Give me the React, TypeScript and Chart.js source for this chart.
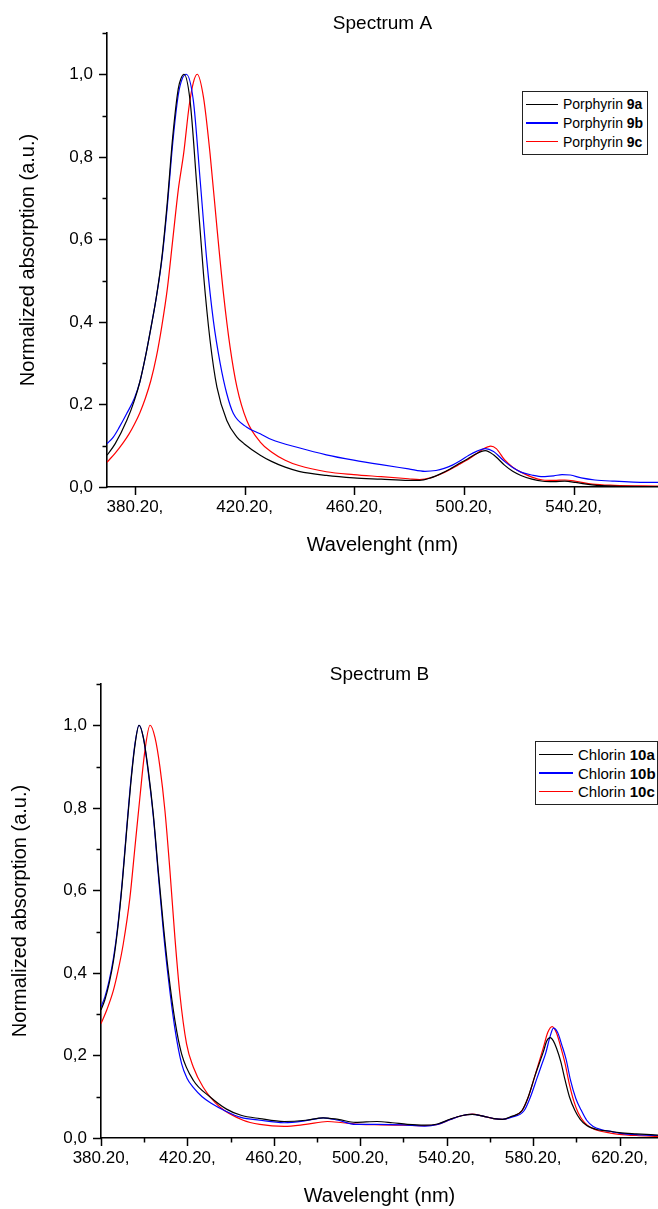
import React, { useEffect, useRef } from 'react';
import { Chart, registerables } from 'chart.js';

Chart.register(...registerables);

const FONT = '"Liberation Sans", Arial, Helvetica, sans-serif';

// ---------- Spectrum A data ----------
const wlA_9a = [370, 373, 377.2, 380, 382, 384, 386, 388, 390, 392, 394, 396, 397, 398.1, 400.3, 402.8, 405.2, 407.6, 410.1, 413.7, 417.4, 420, 425.9, 430, 435, 440, 450, 460, 470, 480, 484, 488, 492, 495, 498, 501, 504, 508, 511, 515, 518, 521, 525, 529, 533, 537, 541, 547, 555, 571];
const absA_9a = [0.077, 0.105, 0.161, 0.21, 0.255, 0.315, 0.385, 0.46, 0.555, 0.69, 0.85, 0.965, 0.99, 1.0, 0.936, 0.726, 0.516, 0.355, 0.242, 0.161, 0.121, 0.105, 0.077, 0.062, 0.048, 0.038, 0.028, 0.022, 0.019, 0.016, 0.016, 0.022, 0.033, 0.043, 0.055, 0.066, 0.078, 0.088, 0.078, 0.053, 0.038, 0.028, 0.019, 0.014, 0.013, 0.014, 0.011, 0.005, 0.002, 0.001];

const wlA_9b = [370, 372.3, 374.5, 377.2, 380, 382, 384, 386, 388, 390, 392, 394, 396, 397.5, 398.9, 401.5, 404, 406.4, 408.8, 411.3, 413.7, 416.1, 421, 425.9, 430, 440, 450, 460, 470, 480, 486, 490, 493, 496, 499, 502, 505, 508, 511, 515, 518, 521, 525, 529, 533, 536, 539, 543, 548, 555, 562, 571];
const absA_9b = [0.105, 0.121, 0.145, 0.178, 0.215, 0.255, 0.315, 0.385, 0.46, 0.55, 0.68, 0.835, 0.95, 0.99, 1.0, 0.936, 0.742, 0.549, 0.403, 0.299, 0.226, 0.178, 0.145, 0.129, 0.115, 0.095, 0.078, 0.065, 0.054, 0.044, 0.038, 0.040, 0.045, 0.053, 0.064, 0.077, 0.087, 0.093, 0.086, 0.062, 0.047, 0.036, 0.029, 0.025, 0.027, 0.030, 0.029, 0.022, 0.017, 0.014, 0.012, 0.011];

const wlA_9c = [370, 373, 376, 378, 380, 382, 384, 386, 388, 390, 392, 394, 396, 398, 400, 401.5, 402.9, 405.2, 407.6, 410.1, 412.5, 414.9, 417.4, 421, 425.9, 430, 435, 440, 450, 460, 470, 480, 484, 488, 492, 495, 498, 501, 504, 507, 510, 512, 515, 518, 521, 525, 529, 533, 537, 541, 547, 555, 571];
const absA_9c = [0.06, 0.082, 0.108, 0.128, 0.152, 0.18, 0.215, 0.258, 0.315, 0.39, 0.48, 0.6, 0.72, 0.81, 0.925, 0.98, 1.0, 0.944, 0.807, 0.629, 0.468, 0.339, 0.242, 0.161, 0.109, 0.085, 0.065, 0.052, 0.037, 0.030, 0.025, 0.020, 0.018, 0.022, 0.032, 0.042, 0.053, 0.064, 0.077, 0.091, 0.099, 0.093, 0.066, 0.048, 0.036, 0.024, 0.017, 0.016, 0.017, 0.014, 0.007, 0.004, 0.002];

// ---------- Spectrum B data ----------
const wlB_10a = [380.2, 382, 384, 386, 388, 390, 392, 394, 396, 397.8, 399.8, 402.1, 404.4, 406.7, 409, 411.3, 414.4, 417.5, 422.9, 430.6, 438.3, 445, 453.7, 465, 475, 483, 490, 498, 508, 515, 522, 530, 536, 542, 547, 552, 557, 562, 566, 570, 575, 578, 581, 583, 585, 586.5, 588.1, 589.5, 591, 593, 595, 597, 599.5, 602, 605, 610, 615, 620, 628, 638];
const absB_10a = [0.31, 0.335, 0.375, 0.43, 0.51, 0.615, 0.74, 0.86, 0.955, 1.0, 0.97, 0.89, 0.785, 0.648, 0.519, 0.406, 0.285, 0.204, 0.14, 0.10, 0.07, 0.055, 0.047, 0.04, 0.043, 0.049, 0.045, 0.038, 0.040, 0.037, 0.033, 0.031, 0.034, 0.046, 0.054, 0.057, 0.053, 0.047, 0.045, 0.052, 0.066, 0.10, 0.15, 0.18, 0.21, 0.235, 0.243, 0.236, 0.218, 0.185, 0.14, 0.10, 0.067, 0.045, 0.03, 0.02, 0.017, 0.013, 0.01, 0.007];

const wlB_10b = [380.2, 382, 384, 386, 388, 390, 392, 394, 396, 397.8, 399.8, 402.1, 404.4, 406.7, 409, 411.3, 414.4, 417.5, 420, 423, 427, 431, 438, 445, 453.7, 465, 475, 483, 490, 498, 508, 520, 530, 536, 542, 547, 552, 557, 562, 566, 570, 576, 579, 582, 584, 586, 588, 589.6, 591.5, 593.5, 595.5, 597.5, 600, 602.5, 605, 608, 612, 617, 620, 628, 638];
const absB_10b = [0.318, 0.342, 0.382, 0.437, 0.515, 0.62, 0.745, 0.865, 0.958, 1.0, 0.97, 0.885, 0.78, 0.64, 0.505, 0.39, 0.265, 0.18, 0.145, 0.122, 0.10, 0.085, 0.065, 0.05, 0.043, 0.037, 0.042, 0.049, 0.043, 0.033, 0.033, 0.032, 0.029, 0.033, 0.045, 0.054, 0.057, 0.053, 0.047, 0.045, 0.05, 0.066, 0.10, 0.145, 0.175, 0.205, 0.245, 0.266, 0.256, 0.225, 0.19, 0.14, 0.095, 0.067, 0.043, 0.028, 0.02, 0.015, 0.012, 0.008, 0.006];

const wlB_10c = [380.2, 383, 385.9, 388, 390.5, 393.6, 395.9, 398.2, 400.5, 402.9, 405.2, 407.5, 409.8, 412.1, 414.4, 416.7, 419.8, 422.9, 427.5, 435.2, 446, 453.7, 465, 475, 485, 492, 500, 510, 520, 530, 536, 542, 547, 552, 557, 562, 566, 570, 575, 578, 581, 583, 585, 587, 589, 591, 593, 595, 597, 599, 601, 604, 607, 611, 616, 620, 628, 638];
const absB_10c = [0.277, 0.312, 0.357, 0.403, 0.47, 0.583, 0.704, 0.825, 0.938, 1.0, 0.97, 0.898, 0.793, 0.648, 0.486, 0.349, 0.228, 0.172, 0.123, 0.075, 0.043, 0.033, 0.028, 0.033, 0.040, 0.037, 0.033, 0.032, 0.031, 0.030, 0.033, 0.045, 0.054, 0.058, 0.053, 0.047, 0.045, 0.051, 0.066, 0.10, 0.15, 0.185, 0.22, 0.256, 0.270, 0.255, 0.22, 0.18, 0.13, 0.09, 0.062, 0.037, 0.025, 0.017, 0.012, 0.009, 0.006, 0.004];

// ---------- Axes ----------
const yTickValues = [0, 0.2, 0.4, 0.6, 0.8, 1.0];
const yTickLabels = ['0,0', '0,2', '0,4', '0,6', '0,8', '1,0'];
const yMinorTicks = [0.1, 0.3, 0.5, 0.7, 0.9, 1.1];

const xTickValuesA = [380.2, 420.2, 460.2, 500.2, 540.2];
const xTickLabelsA = ['380.20,', '420.20,', '460.20,', '500.20,', '540.20,'];
const xMinorTicksA: number[] = [];

const xTickValuesB = [380.2, 420.2, 460.2, 500.2, 540.2, 580.2, 620.2];
const xTickLabelsB = ['380.20,', '420.20,', '460.20,', '500.20,', '540.20,', '580.20,', '620.20,'];
const xMinorTicksB = [400.2, 440.2, 480.2, 520.2, 560.2, 600.2];

const tickMarksPlugin = {
  id: 'tickMarks',
  afterDraw(chart: any, _args: any, opts: any) {
    const { ctx } = chart;
    const xs = chart.scales.x;
    const ys = chart.scales.y;
    ctx.save();
    ctx.strokeStyle = '#000';
    ctx.lineWidth = 1.5;
    const dx = (vals: number[], len: number) => {
      vals.forEach((v) => {
        const p = Math.round(xs.getPixelForValue(v)) + 0.5;
        ctx.beginPath();
        ctx.moveTo(p, xs.top);
        ctx.lineTo(p, xs.top + len);
        ctx.stroke();
      });
    };
    const dy = (vals: number[], len: number) => {
      vals.forEach((v) => {
        const p = Math.round(ys.getPixelForValue(v)) + 0.5;
        ctx.beginPath();
        ctx.moveTo(ys.right, p);
        ctx.lineTo(ys.right - len, p);
        ctx.stroke();
      });
    };
    dx(opts.xMajor || [], 8);
    dx(opts.xMinor || [], 4.5);
    dy(opts.yMajor || [], 8);
    dy(opts.yMinor || [], 4.5);
    ctx.restore();
  },
};

type Series = { label: string; wl: number[]; abs: number[]; color: string };

function SpectrumChart(props: {
  top: number;
  title: string;
  series: Series[];
  xMin: number;
  xMax: number;
  xTicks: number[];
  xLabels: string[];
  xMinor: number[];
  yAxisWidth: number;
  yTitlePad: number;
}) {
  const ref = useRef<HTMLCanvasElement>(null);
  useEffect(() => {
    if (!ref.current) return;
    const chart = new Chart(ref.current, {
      type: 'line',
      data: {
        datasets: props.series.map((s) => ({
          label: s.label,
          data: s.wl.map((x, i) => ({ x, y: s.abs[i] })),
          borderColor: s.color,
          backgroundColor: s.color,
          borderWidth: 1.2,
          pointRadius: 0,
          fill: false,
          cubicInterpolationMode: 'monotone',
        })),
      },
      options: {
        responsive: false,
        maintainAspectRatio: false,
        animation: false,
        layout: { padding: 0 },
        plugins: {
          legend: { display: false },
          tooltip: { enabled: false },
          title: {
            display: true,
            text: props.title,
            fullSize: false,
            color: '#000',
            font: { family: FONT, size: 19, weight: 'normal', lineHeight: 1 },
            padding: { top: 14, bottom: 0 },
          },
          tickMarks: {
            xMajor: props.xTicks,
            xMinor: props.xMinor,
            yMajor: yTickValues,
            yMinor: yMinorTicks,
          },
        } as any,
        scales: {
          x: {
            type: 'linear',
            min: props.xMin,
            max: props.xMax,
            afterFit: (s: any) => {
              s.height = 71;
            },
            afterBuildTicks: (s: any) => {
              s.ticks = props.xTicks.map((v) => ({ value: v }));
            },
            grid: { display: false, drawTicks: false },
            border: { display: true, color: '#000', width: 1.6 },
            ticks: {
              autoSkip: false,
              maxRotation: 0,
              padding: 10,
              color: '#000',
              font: { family: FONT, size: 17 },
              callback: (_v: any, i: number) => props.xLabels[i],
            },
            title: {
              display: true,
              text: 'Wavelenght (nm)',
              color: '#000',
              font: { family: FONT, size: 20, lineHeight: 1.2 },
              padding: { top: 0, bottom: 1 },
            },
          },
          y: {
            type: 'linear',
            min: 0,
            max: 1.1,
            afterFit: (s: any) => {
              s.width = props.yAxisWidth;
            },
            afterBuildTicks: (s: any) => {
              s.ticks = yTickValues.map((v) => ({ value: v }));
            },
            grid: { display: false, drawTicks: false },
            border: { display: true, color: '#000', width: 1.6 },
            ticks: {
              autoSkip: false,
              padding: 14,
              color: '#000',
              font: { family: FONT, size: 17 },
              callback: (_v: any, i: number) => yTickLabels[i],
            },
            title: {
              display: true,
              text: 'Normalized absorption (a.u.)',
              color: '#000',
              font: { family: FONT, size: 20, lineHeight: 1.2 },
              padding: { top: props.yTitlePad, bottom: 0 },
            },
          },
        },
      } as any,
      plugins: [tickMarksPlugin],
    });
    return () => chart.destroy();
  }, []);
  return (
    <div style={{ position: 'absolute', left: 0, top: props.top, width: 658, height: 558 }}>
      <canvas ref={ref} width={658} height={558} style={{ width: 658, height: 558, display: 'block' }} />
    </div>
  );
}

function Legend(props: {
  left: number;
  top: number;
  width: number;
  fontSize: number;
  lineLen: number;
  items: { name: string; bold: string; color: string }[];
}) {
  return (
    <div
      style={{
        position: 'absolute',
        left: props.left,
        top: props.top,
        width: props.width,
        border: '1px solid #222',
        background: '#fff',
        fontFamily: FONT,
        fontSize: props.fontSize,
        color: '#000',
        padding: '3px 0 3px 3px',
        boxSizing: 'border-box',
      }}
    >
      {props.items.map((it) => (
        <div key={it.bold} style={{ display: 'flex', alignItems: 'center', height: 18.7, whiteSpace: 'nowrap' }}>
          <div style={{ width: props.lineLen, height: 1.5, background: it.color, marginRight: 5, flex: 'none' }} />
          <span>
            {it.name} <b>{it.bold}</b>
          </span>
        </div>
      ))}
    </div>
  );
}

const seriesA: Series[] = [
  { label: 'Porphyrin 9a', wl: wlA_9a, abs: absA_9a, color: '#000000' },
  { label: 'Porphyrin 9b', wl: wlA_9b, abs: absA_9b, color: '#0000ff' },
  { label: 'Porphyrin 9c', wl: wlA_9c, abs: absA_9c, color: '#ff0000' },
];
const seriesB: Series[] = [
  { label: 'Chlorin 10a', wl: wlB_10a, abs: absB_10a, color: '#000000' },
  { label: 'Chlorin 10b', wl: wlB_10b, abs: absB_10b, color: '#0000ff' },
  { label: 'Chlorin 10c', wl: wlB_10c, abs: absB_10c, color: '#ff0000' },
];

export default function App() {
  return (
    <div style={{ position: 'absolute', left: 0, top: 0, width: 658, height: 1209, background: '#fff', overflow: 'hidden' }}>
      <SpectrumChart
        top={0}
        title="Spectrum A"
        series={seriesA}
        xMin={370}
        xMax={571}
        xTicks={xTickValuesA}
        xLabels={xTickLabelsA}
        xMinor={xMinorTicksA}
        yAxisWidth={107}
        yTitlePad={16}
      />
      <SpectrumChart
        top={651}
        title="Spectrum B"
        series={seriesB}
        xMin={380.2}
        xMax={638}
        xTicks={xTickValuesB}
        xLabels={xTickLabelsB}
        xMinor={xMinorTicksB}
        yAxisWidth={101}
        yTitlePad={8}
      />
      <Legend
        left={522}
        top={91}
        width={126}
        fontSize={14}
        lineLen={32}
        items={[
          { name: 'Porphyrin', bold: '9a', color: '#000000' },
          { name: 'Porphyrin', bold: '9b', color: '#0000ff' },
          { name: 'Porphyrin', bold: '9c', color: '#ff0000' },
        ]}
      />
      <Legend
        left={535}
        top={741}
        width={123}
        fontSize={15}
        lineLen={34}
        items={[
          { name: 'Chlorin', bold: '10a', color: '#000000' },
          { name: 'Chlorin', bold: '10b', color: '#0000ff' },
          { name: 'Chlorin', bold: '10c', color: '#ff0000' },
        ]}
      />
    </div>
  );
}
